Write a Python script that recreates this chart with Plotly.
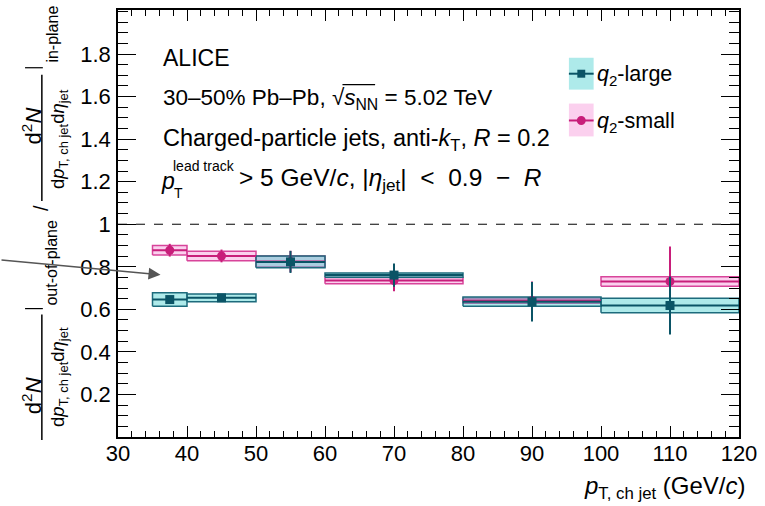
import plotly.graph_objects as go

# ---- data -------------------------------------------------------------
bin_lo = [35, 40, 50, 60, 80, 100]
bin_hi = [40, 50, 60, 80, 100, 120]

large_val = [0.646, 0.654, 0.823, 0.761, 0.636, 0.618]
large_stat = [0.015, 0.012, 0.052, 0.055, 0.093, 0.136]
large_sys = [0.032, 0.018, 0.028, 0.010, 0.022, 0.034]

small_val = [0.878, 0.851, 0.825, 0.735, 0.641, 0.731]
small_stat = [0.030, 0.030, 0.050, 0.050, 0.090, 0.164]
small_sys = [0.022, 0.022, 0.026, 0.015, 0.012, 0.022]

x_ticks = [30, 40, 50, 60, 70, 80, 90, 100, 110, 120]
y_ticks = [0.2, 0.4, 0.6, 0.8, 1.0, 1.2, 1.4, 1.6, 1.8]
y_ticktext = ["0.2", "0.4", "0.6", "0.8", "1", "1.2", "1.4", "1.6", "1.8"]

# ---- styling ------------------------------------------------------------
W, H = 765, 506
ML, MR, MT, MB = 118, 19, 8, 69
PW, PH = W - ML - MR, H - MT - MB
FONT = "Liberation Sans"
NB = "\u00a0"  # non-breaking space for TLatex-like spacing

TEAL_LINE = "#1d6b7c"
TEAL_MARK = "#0b5466"
TEAL_FILL = "rgba(53,203,203,0.40)"
PINK_LINE = "#d8449a"
PINK_MARK = "#c81e7a"
PINK_FILL = "rgba(245,137,212,0.40)"


def px(xp):
    return (xp - ML) / PW


def py(yp):
    return (MT + PH - yp) / PH


centers = [(a + b) / 2 for a, b in zip(bin_lo, bin_hi)]
half_w = [(b - a) / 2 for a, b in zip(bin_lo, bin_hi)]


def box_path(vals, sys):
    xs, ys = [], []
    for lo, hi, v, s in zip(bin_lo, bin_hi, vals, sys):
        xs += [lo, hi, hi, lo, lo, None]
        ys += [v - s, v - s, v + s, v + s, v - s, None]
    return xs, ys


fig = go.Figure()

# systematic boxes
for vals, sys, fill, line in [(small_val, small_sys, PINK_FILL, PINK_LINE),
                              (large_val, large_sys, TEAL_FILL, TEAL_LINE)]:
    bx, by = box_path(vals, sys)
    fig.add_trace(go.Scatter(x=bx, y=by, mode="lines", fill="toself",
                             fillcolor=fill, line=dict(color=line, width=1.5),
                             hoverinfo="skip", showlegend=False))

# points with statistical errors
for vals, stat, col, sym in [(small_val, small_stat, PINK_MARK, "circle"),
                             (large_val, large_stat, TEAL_MARK, "square")]:
    fig.add_trace(go.Scatter(
        x=centers, y=vals, mode="markers",
        marker=dict(symbol=sym, size=9, color=col),
        error_y=dict(type="data", array=stat, color=col, thickness=2, width=0),
        error_x=dict(type="data", array=half_w, color=col, thickness=2, width=0),
        showlegend=False))

shapes = []
# reference line at unity
shapes.append(dict(type="line", xref="x", yref="y", x0=30, x1=120, y0=1, y1=1,
                   line=dict(color="black", width=1, dash="dash")))

# legend symbols
for (y0, y1, ym, fill, line, mark, sym) in [
        (56, 88, 72, TEAL_FILL, TEAL_LINE, TEAL_MARK, "sq"),
        (102, 135, 119, PINK_FILL, PINK_LINE, PINK_MARK, "ci")]:
    shapes.append(dict(type="rect", xref="paper", yref="paper",
                       x0=px(574), x1=px(599), y0=py(y1), y1=py(y0),
                       fillcolor=fill, line=dict(width=0)))
    shapes.append(dict(type="line", xref="paper", yref="paper",
                       x0=px(574), x1=px(599), y0=py(ym), y1=py(ym),
                       line=dict(color=mark, width=2)))
    if sym == "sq":
        shapes.append(dict(type="rect", xref="paper", yref="paper",
                           x0=px(582.5), x1=px(590.5), y0=py(ym + 4), y1=py(ym - 4),
                           fillcolor=mark, line=dict(width=0)))
    else:
        shapes.append(dict(type="circle", xref="paper", yref="paper",
                           x0=px(582), x1=px(591), y0=py(ym + 4.5), y1=py(ym - 4.5),
                           fillcolor=mark, line=dict(width=0)))

# fraction bars and evaluation bars of the y title
for (y0, y1) in [(314, 440), (73, 200)]:
    shapes.append(dict(type="line", xref="paper", yref="paper",
                       x0=px(41), x1=px(41), y0=py(y1), y1=py(y0),
                       line=dict(color="black", width=1.5)))
for yb in [308, 66]:
    shapes.append(dict(type="line", xref="paper", yref="paper",
                       x0=px(24), x1=px(42), y0=py(yb), y1=py(yb),
                       line=dict(color="black", width=1.2)))
# overline of the square root
shapes.append(dict(type="line", xref="paper", yref="paper",
                   x0=px(345), x1=px(378), y0=py(83), y1=py(83),
                   line=dict(color="black", width=1.2)))

ann = []


def text(xp, yp, s, size=23, xa="left", ya="middle", angle=0):
    ann.append(dict(x=px(xp), y=py(yp), xref="paper", yref="paper", text=s,
                    showarrow=False, xanchor=xa, yanchor=ya, textangle=angle,
                    font=dict(family=FONT, size=size, color="black")))


# figure labels
text(161, 56, "ALICE")
text(161, 97, "30–50% Pb–Pb, √<i>s</i><sub>NN</sub> = 5.02 TeV", size=22.5)
text(161, 138, "Charged-particle jets, anti-<i>k</i><sub>T</sub>, <i>R</i> = 0.2", size=23.5)
text(159, 180, "<i>p</i>")
text(172, 165, "lead track", size=14)
text(173, 192, "T", size=14)
text(238, 178,
     "> 5 GeV/<i>c</i>, |<i>η</i><sub>jet</sub>|" + NB * 2
     + "<" + NB * 2 + "0.9" + NB * 2 + "−" + NB * 2 + "<i>R</i>", size=24.5)

# legend labels
text(600, 74, "<i>q</i><sub>2</sub>-large", size=21.5)
text(600, 121, "<i>q</i><sub>2</sub>-small", size=21.5)

# x title
text(755, 488, "<i>p</i><sub>T, ch jet</sub> (GeV/<i>c</i>)", size=24, xa="right")

# y title built from pieces
for yc_num, yc_den in [(395, 377), (124, 138)]:
    text(31, yc_num, "d<sup>2</sup><i>N</i>", size=22, xa="center", angle=-90)
    text(59, yc_den, "d<i>p</i><sub>T, ch jet</sub>d<i>η</i><sub>jet</sub>",
         size=18.5, xa="center", angle=-90)
text(51, 262, "out-of-plane", size=16, xa="center", angle=-90)
text(52, 32, "in-plane", size=16, xa="center", angle=-90)
text(40, 207, "/", size=20, xa="center", angle=-90)

# pointer arrow on the left
ann.append(dict(x=px(161), y=py(274), xref="paper", yref="paper", text="",
                showarrow=True, ax=-164, ay=-15, axref="pixel", ayref="pixel",
                arrowhead=2, arrowsize=1.6, arrowwidth=1.5, arrowcolor="#555555"))

axis_common = dict(showline=True, linecolor="black", linewidth=1.5, mirror="allticks",
                   ticks="inside", tickcolor="black", tickwidth=1.2, showgrid=False,
                   zeroline=False, tickfont=dict(family=FONT, size=22, color="black"))

fig.update_layout(
    width=W, height=H,
    margin=dict(l=ML, r=MR, t=MT, b=MB),
    paper_bgcolor="white", plot_bgcolor="white",
    xaxis=dict(range=[30, 120], tickvals=x_ticks, ticklen=11, ticklabelstandoff=-4,
               minor=dict(dtick=2, tick0=30, ticklen=6, ticks="inside",
                          tickcolor="black", tickwidth=1.2),
               **axis_common),
    yaxis=dict(range=[0, 2.007], tickvals=y_ticks, ticktext=y_ticktext, ticklen=18,
               ticklabelstandoff=1,
               minor=dict(dtick=0.05, tick0=0, ticklen=10, ticks="inside",
                          tickcolor="black", tickwidth=1.2),
               **axis_common),
    shapes=shapes, annotations=ann, showlegend=False,
)

fig.write_html("out.html")
